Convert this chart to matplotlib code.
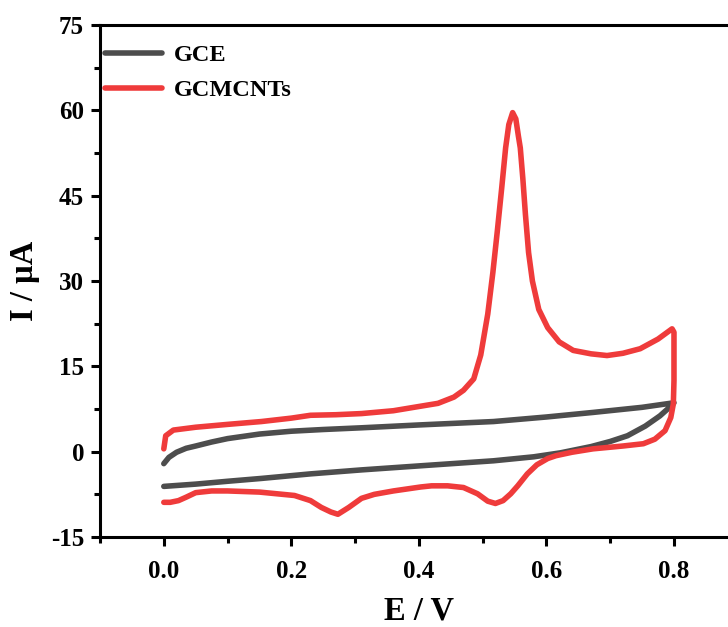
import matplotlib
matplotlib.use('Agg')
import matplotlib.pyplot as plt
from matplotlib.ticker import MultipleLocator

# ===== data =====
gce_E = [0.0, 0.008, 0.02, 0.035, 0.05, 0.075, 0.10, 0.15, 0.20, 0.25, 0.31, 0.40,
         0.517, 0.60, 0.673, 0.75, 0.80,
         0.79, 0.778, 0.755, 0.727, 0.70, 0.67, 0.622, 0.58, 0.517, 0.40, 0.31,
         0.23, 0.153, 0.10, 0.05, 0.0]
gce_I = [-2.1, -1.0, -0.1, 0.6, 1.0, 1.7, 2.3, 3.1, 3.6, 3.9, 4.2, 4.7,
         5.3, 6.1, 6.9, 7.8, 8.6,
         7.5, 6.3, 4.5, 2.8, 1.8, 0.9, -0.2, -0.9, -1.6, -2.5, -3.2,
         -3.9, -4.7, -5.2, -5.7, -6.1]

mwcnt_E = [0.0, 0.003, 0.015, 0.05, 0.10, 0.153, 0.20, 0.23, 0.27, 0.31, 0.36,
           0.403, 0.43, 0.455, 0.47, 0.486, 0.497, 0.508, 0.516, 0.523, 0.530,
           0.536, 0.541, 0.547, 0.552, 0.556, 0.559, 0.563, 0.567, 0.572, 0.578,
           0.588, 0.602, 0.62, 0.642, 0.67, 0.695, 0.72, 0.747, 0.775, 0.797,
           0.80, 0.80, 0.799, 0.795, 0.786, 0.77, 0.752, 0.72, 0.673, 0.64,
           0.615, 0.602, 0.585, 0.570, 0.555, 0.544, 0.532, 0.520, 0.508, 0.492,
           0.47, 0.445, 0.42, 0.403, 0.36, 0.33, 0.31, 0.29, 0.273, 0.262,
           0.247, 0.23, 0.205, 0.15, 0.10, 0.075, 0.05, 0.035, 0.023, 0.01, 0.0]
mwcnt_I = [0.5, 2.8, 3.8, 4.3, 4.8, 5.3, 5.9, 6.4, 6.5, 6.7, 7.2,
           8.0, 8.5, 9.6, 10.8, 12.8, 17.0, 24.2, 31.5, 38.8, 46.5,
           53.4, 57.5, 59.6, 58.5, 55.5, 53.4, 48.0, 41.8, 35.0, 30.0,
           25.0, 21.8, 19.3, 17.8, 17.2, 16.9, 17.3, 18.1, 19.8, 21.6,
           21.0, 12.5, 8.4, 6.0, 3.7, 2.2, 1.4, 1.0, 0.5, -0.1,
           -0.7, -1.2, -2.3, -3.9, -6.0, -7.4, -8.6, -9.1, -8.7, -7.4,
           -6.3, -6.0, -6.0, -6.2, -6.9, -7.5, -8.2, -9.8, -11.0, -10.6,
           -9.8, -8.6, -7.7, -7.1, -6.9, -6.9, -7.2, -8.0, -8.6, -8.9, -8.9]

labels = ['GCE', 'GCMCNTs']
colors = ['#4d4d4d', '#ef3b3b']

plt.rcParams.update({
    'font.family': ['Liberation Serif', 'DejaVu Serif'],
    'font.weight': 'bold',
    'axes.linewidth': 2.2,
    'axes.unicode_minus': False,
    'lines.solid_capstyle': 'round',
    'lines.solid_joinstyle': 'round',
})

fig = plt.figure(figsize=(7.28, 6.27), dpi=100)
ax = fig.add_axes([0.1374, 0.1435, 0.876, 0.8166])

ax.plot(gce_E, gce_I, color=colors[0], linewidth=4.0, label=labels[0])
ax.plot(mwcnt_E, mwcnt_I, color=colors[1], linewidth=4.0, label=labels[1])

ax.set_xlim(-0.1, 0.9)
ax.set_ylim(-15, 75)
ax.xaxis.set_major_locator(MultipleLocator(0.2))
ax.xaxis.set_minor_locator(MultipleLocator(0.1))
ax.yaxis.set_major_locator(MultipleLocator(15))
ax.yaxis.set_minor_locator(MultipleLocator(7.5))
ax.xaxis.set_major_formatter(plt.FuncFormatter(lambda v, p: f'{v:.1f}'))

ax.tick_params(which='major', direction='out', length=6.5, width=2.2,
               labelsize=18)
ax.tick_params(axis='x', which='major', pad=10)
ax.tick_params(axis='y', which='major', pad=5)
ax.tick_params(which='minor', direction='out', length=4.5, width=2.2)
for lab in ax.get_xticklabels() + ax.get_yticklabels():
    lab.set_fontweight('bold')

ax.set_xlabel('E / V', fontsize=23.5, fontweight='bold', labelpad=9)
ax.set_ylabel('I / μA', fontsize=23.5, fontweight='bold', labelpad=8)

ax.legend(loc='upper left', bbox_to_anchor=(-0.027, 1.005), frameon=False,
          prop={'size': 17.5, 'weight': 'bold'}, handlelength=2.35,
          handletextpad=0.5, labelspacing=0.54)

fig.savefig('out.png', dpi=100)
